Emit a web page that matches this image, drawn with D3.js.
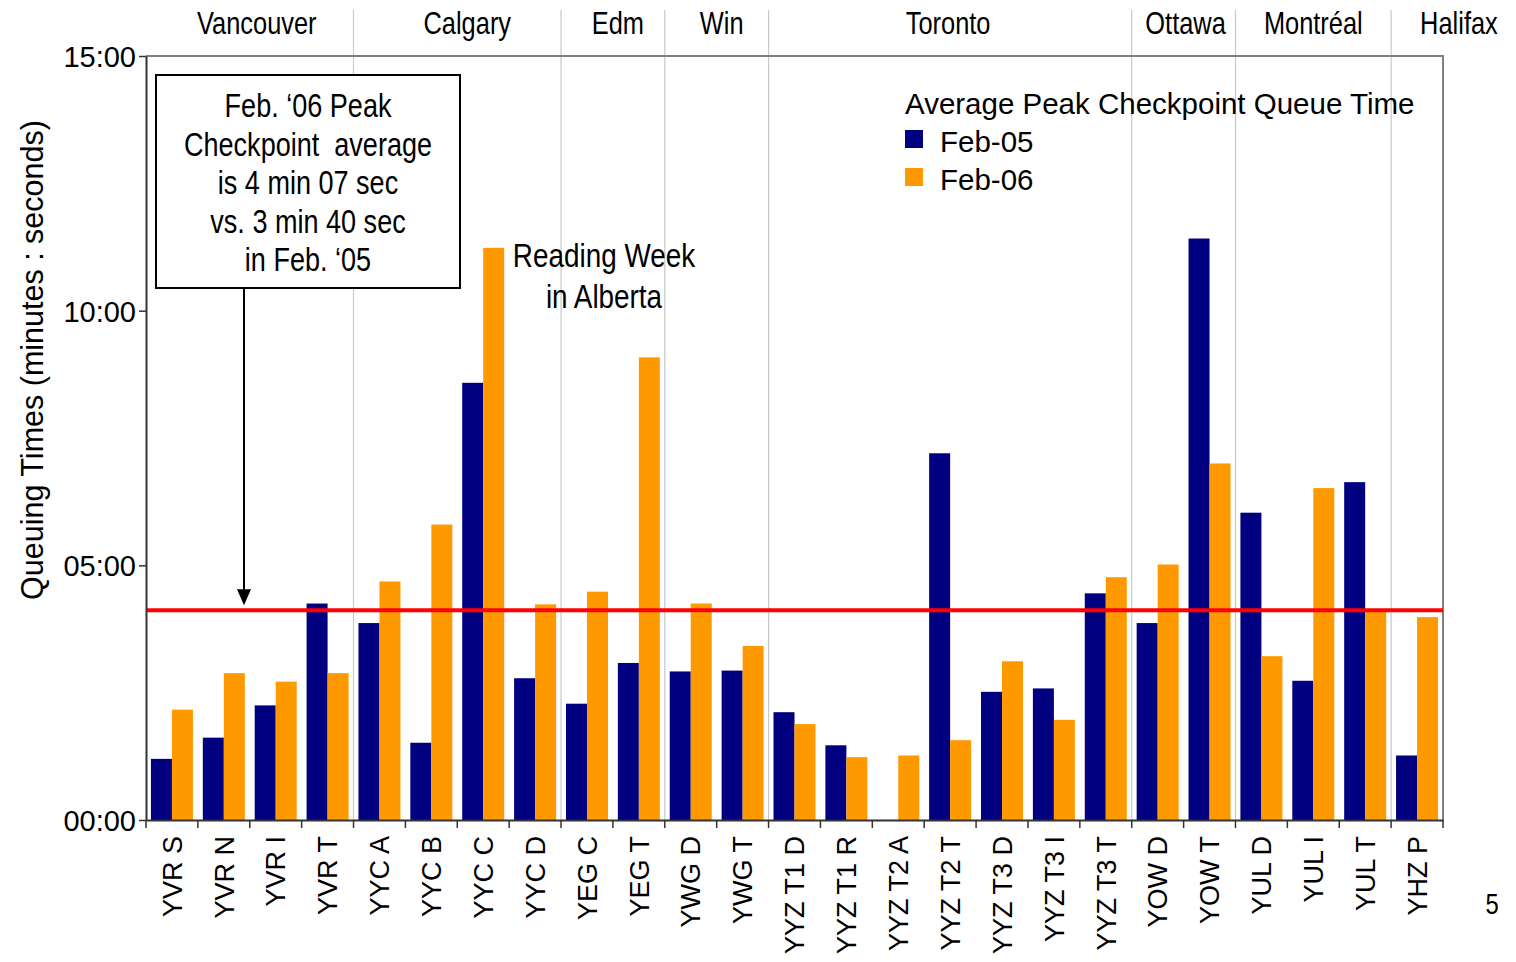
<!DOCTYPE html>
<html>
<head>
<meta charset="utf-8">
<script src="https://cdn.jsdelivr.net/npm/d3@7"></script>
<style>
  body { margin: 0; background: #fff; }
  svg { display: block; }
  text { font-family: "Liberation Sans", Arial, sans-serif; white-space: pre; }
</style>
</head>
<body>
<div id="chart"></div>
<script>
// Data (queue times in seconds)
const airports = [
  "YVR S", "YVR N", "YVR I", "YVR T",
  "YYC A", "YYC B", "YYC C", "YYC D",
  "YEG C", "YEG T",
  "YWG D", "YWG T",
  "YYZ T1 D", "YYZ T1 R", "YYZ T2 A", "YYZ T2 T", "YYZ T3 D", "YYZ T3 I", "YYZ T3 T",
  "YOW D", "YOW T",
  "YUL D", "YUL I", "YUL T",
  "YHZ P"
]
const feb05 = [72, 97, 135, 255, 232, 91, 515, 167, 137, 185, 175, 176, 127, 88, 0, 432, 151, 155, 267, 232, 685, 362, 164, 398, 76]
const feb06 = [130, 173, 163, 173, 281, 348, 674, 254, 269, 545, 255, 205, 113, 74, 76, 94, 187, 118, 286, 301, 420, 193, 391, 245, 239]
const seriesNames = ["Feb-05", "Feb-06"]
const seriesColors = ["#000080", "#ff9900"]
const cities = ["Vancouver", "Calgary", "Edm", "Win", "Toronto", "Ottawa", "Montréal", "Halifax"]
const cityCounts = [4, 4, 2, 2, 7, 2, 3, 1]
const yTicks = [0, 300, 600, 900]
const averageFeb06 = 247 // 4 min 07 sec
const noteLines = ["Feb. \u201806 Peak", "Checkpoint  average", "is 4 min 07 sec", "vs. 3 min 40 sec", "in Feb. \u201805"]
const readingWeek = ["Reading Week", "in Alberta"]

// Dimensions
const width = 1516
const height = 962
const margin = { top: 56, right: 73, bottom: 142, left: 146 }
const boundedWidth = width - margin.left - margin.right
const boundedHeight = height - margin.top - margin.bottom

const svg = d3.select("#chart")
  .append("svg")
  .attr("width", width)
  .attr("height", height)

const bounds = svg.append("g")
  .attr("transform", `translate(${margin.left},${margin.top})`)

// condensed text (no narrow font installed, so squeeze Liberation Sans)
const narrowText = (parent, x, y, size, anchor, str) => parent.append("text")
  .attr("transform", `translate(${x},${y}) scale(0.82,1)`)
  .attr("text-anchor", anchor)
  .attr("font-size", size)
  .attr("fill", "#000")
  .text(str)

// Scales
const xScale = d3.scaleBand()
  .domain(airports)
  .range([0, boundedWidth])

const x1Scale = d3.scaleBand()
  .domain(seriesNames)
  .range([0, xScale.bandwidth()])
  .paddingOuter(0.235)

const yScale = d3.scaleLinear()
  .domain([0, 900])
  .range([boundedHeight, 0])

const fmt = s => {
  const m = Math.floor(s / 60)
  const sec = s % 60
  return `${String(m).padStart(2, "0")}:${String(sec).padStart(2, "0")}`
}

// City separators + labels
const labelShift = [7, 10, 5, 5, -2, 2, 0, 0]
let start = 0
cities.forEach((city, i) => {
  const first = airports[start]
  const last = airports[start + cityCounts[i] - 1]
  const x0 = xScale(first)
  const x1 = xScale(last) + xScale.bandwidth()
  if (i > 0) {
    bounds.append("line")
      .attr("x1", x0).attr("x2", x0)
      .attr("y1", -46).attr("y2", boundedHeight)
      .attr("stroke", "#c8c8c8")
      .attr("stroke-width", 1.2)
  }
  const isLast = i === cities.length - 1
  const lx = isLast ? x0 + 29 : (x0 + x1) / 2 + labelShift[i]
  narrowText(bounds, lx, -22, 31, isLast ? "start" : "middle", city)
  start += cityCounts[i]
})

// Frame (top & right)
bounds.append("path")
  .attr("d", `M0,0H${boundedWidth}V${boundedHeight}`)
  .attr("fill", "none")
  .attr("stroke", "#808080")
  .attr("stroke-width", 2)

// Bars
const rows = airports.map((a, i) => ({ airport: a, values: [feb05[i], feb06[i]] }))
const groups = bounds.append("g")
  .selectAll("g")
  .data(rows)
  .join("g")
  .attr("transform", d => `translate(${xScale(d.airport)},0)`)

groups.selectAll("rect")
  .data(d => d.values.map((v, j) => ({ key: seriesNames[j], value: v, color: seriesColors[j] })))
  .join("rect")
  .attr("x", d => x1Scale(d.key))
  .attr("width", x1Scale.bandwidth())
  .attr("y", d => yScale(d.value))
  .attr("height", d => boundedHeight - yScale(d.value))
  .attr("fill", d => d.color)

// Average line
bounds.append("line")
  .attr("x1", 0).attr("x2", boundedWidth)
  .attr("y1", yScale(averageFeb06)).attr("y2", yScale(averageFeb06))
  .attr("stroke", "#ff0000")
  .attr("stroke-width", 4)

// Y axis
const yAxis = bounds.append("g")
  .call(d3.axisLeft(yScale).tickValues(yTicks).tickFormat(fmt).tickSize(7).tickSizeOuter(0))
yAxis.select(".domain").attr("stroke", "#333").attr("stroke-width", 2)
yAxis.selectAll(".tick line").attr("stroke", "#333").attr("stroke-width", 1.5)
yAxis.selectAll(".tick text")
  .attr("font-family", null)
  .attr("font-size", 29)
  .attr("fill", "#000")
  .attr("dy", "0.36em")
  .attr("x", -10)

// X axis
const xAxis = bounds.append("g")
  .attr("transform", `translate(0,${boundedHeight})`)
  .call(d3.axisBottom(xScale).tickSize(0))
xAxis.select(".domain").attr("stroke", "#333").attr("stroke-width", 2)
xAxis.selectAll(".tick text")
  .attr("font-family", null)
  .attr("font-size", 27)
  .attr("fill", "#000")
  .attr("transform", "rotate(-90)")
  .attr("text-anchor", "end")
  .attr("x", -16)
  .attr("y", 0)
  .attr("dy", "0.36em")
xAxis.selectAll(".sep")
  .data(d3.range(airports.length + 1))
  .join("line")
  .attr("x1", i => i * xScale.step()).attr("x2", i => i * xScale.step())
  .attr("y1", 0).attr("y2", 8)
  .attr("stroke", "#333")
  .attr("stroke-width", 1.5)

// Y axis title
svg.append("text")
  .attr("transform", `translate(43,${(120 + 600) / 2}) rotate(-90)`)
  .attr("text-anchor", "middle")
  .attr("font-size", 30.5)
  .attr("fill", "#000")
  .text("Queuing Times (minutes : seconds)")

// Legend
const legend = svg.append("g").attr("transform", "translate(905,0)")
legend.append("text")
  .attr("x", 0).attr("y", 114)
  .attr("font-size", 29.5)
  .attr("fill", "#000")
  .text("Average Peak Checkpoint Queue Time")
seriesNames.forEach((name, i) => {
  legend.append("rect")
    .attr("x", 0).attr("y", 130 + i * 38)
    .attr("width", 18).attr("height", 18)
    .attr("fill", seriesColors[i])
  legend.append("text")
    .attr("x", 35).attr("y", 152 + i * 38)
    .attr("font-size", 29.5)
    .attr("fill", "#000")
    .text(name)
})

// Annotation box + arrow
svg.append("rect")
  .attr("x", 156).attr("y", 75)
  .attr("width", 304).attr("height", 213)
  .attr("fill", "#fff")
  .attr("stroke", "#000")
  .attr("stroke-width", 2)
noteLines.forEach((line, i) => {
  narrowText(svg, 308, 117 + i * 38.5, 33, "middle", line)
})
const arrowX = 244
const arrowTip = margin.top + yScale(averageFeb06) - 5
svg.append("line")
  .attr("x1", arrowX).attr("x2", arrowX)
  .attr("y1", 288).attr("y2", arrowTip - 14)
  .attr("stroke", "#000")
  .attr("stroke-width", 2)
svg.append("path")
  .attr("d", `M${arrowX - 7},${arrowTip - 16}L${arrowX + 7},${arrowTip - 16}L${arrowX},${arrowTip}Z`)
  .attr("fill", "#000")

// Reading week note
readingWeek.forEach((line, i) => {
  narrowText(svg, 604, 267 + i * 41, 34, "middle", line)
})

// Page number
narrowText(svg, 1492, 914, 29, "middle", "5")
</script>
</body>
</html>
